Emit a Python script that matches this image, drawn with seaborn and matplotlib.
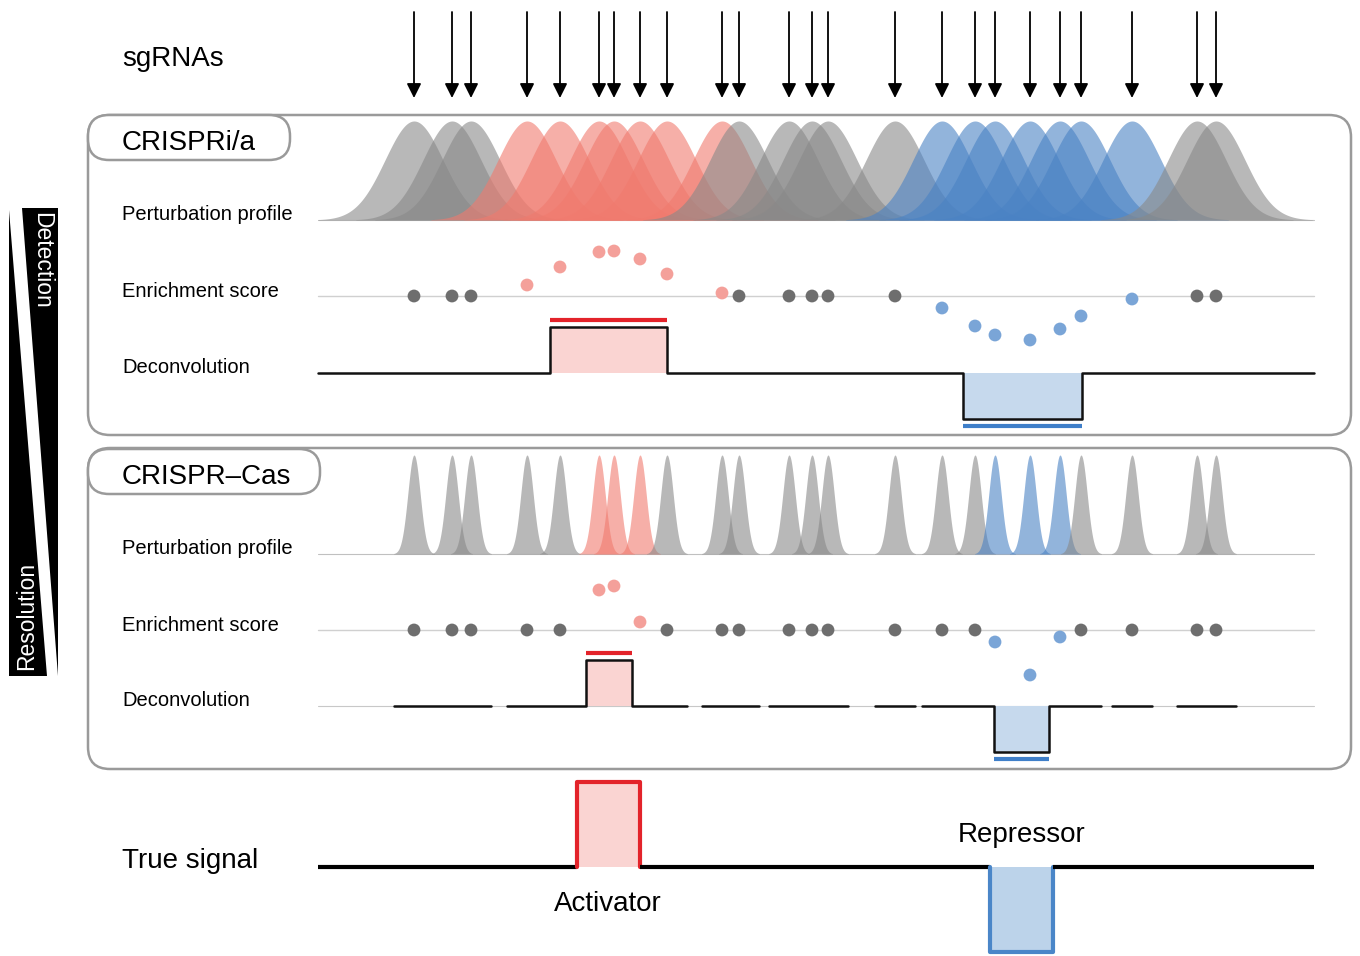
import numpy as np
import pandas as pd
import matplotlib
matplotlib.use("Agg")
import matplotlib.pyplot as plt
from matplotlib.patches import FancyBboxPatch
import seaborn as sns

sns.set_theme(style="white")
plt.rcParams['font.family'] = ['Liberation Sans', 'DejaVu Sans']
plt.rcParams['text.color'] = 'black'

# sgRNA target sites along the locus
guides = [414, 452, 471, 527, 560, 599, 614, 640, 667, 722, 739, 789, 812, 828,
          895, 942, 975, 995, 1030, 1060, 1081, 1132, 1197, 1216]

# guide class per screen: n = no effect, a = hits activator, r = hits repressor
ia_class = ['n', 'n', 'n', 'a', 'a', 'a', 'a', 'a', 'a', 'a', 'n', 'n', 'n', 'n',
            'n', 'r', 'r', 'r', 'r', 'r', 'r', 'r', 'n', 'n']
cas_class = ['n'] * 5 + ['a', 'a', 'a'] + ['n'] * 9 + ['r', 'r', 'r'] + ['n'] * 4

# enrichment scores (up = enriched)
ia_score = [0, 0, 0, 11, 29, 44, 45, 37, 22, 3, 0, 0, 0, 0,
            0, -12, -30, -39, -44, -33, -20, -3, 0, 0]
cas_score = [0, 0, 0, 0, 0, 40, 44, 8, 0, 0, 0, 0, 0, 0, 0, 0, 0,
             -12, -45, -7, 0, 0, 0, 0]

# called / true elements: (start, end, sign)
ia_calls = [(550, 667, 1), (963, 1082, -1)]
cas_calls = [(586, 632, 1), (994, 1049, -1)]
true_calls = [(577, 640, 1), (990, 1053, -1)]

locus = (318, 1314)

# layout
IA = dict(profile=220, score=296, deconv=373)
CAS = dict(profile=554, score=630, deconv=706)
TRUE_BASE = 867
PEAK_H = 99
STEP_H = 46
TRUE_H = 85

prof_col = {'n': '#898989', 'a': '#f07a6e', 'r': '#4a82c4'}
dot_col = {'n': '#6e6e6e', 'a': '#f4a09a', 'r': '#7aa5d7'}
fill_col = {1: '#fad4d2', -1: '#c6d9ed'}
bar_col = {1: '#e3232a', -1: '#3f7fc9'}
true_fill = {1: '#fad4d2', -1: '#bcd3ea'}
true_edge = {1: '#e3232a', -1: '#4a86c8'}
BOX_EDGE = '#9a9a9a'

fig = plt.figure(figsize=(13.6, 9.56), dpi=100)
ax = fig.add_axes([0, 0, 1, 1])


def draw_profiles(base, sigma, classes):
    x = np.linspace(locus[0], locus[1], 3000)
    ax.plot(locus, [base, base], color='#c0c0c0', lw=0.8, zorder=1)
    for g, c in zip(guides, classes):
        y = np.exp(-0.5 * ((x - g) / sigma) ** 2)
        m = y > 0.004
        ax.fill_between(x[m], base, base - PEAK_H * y[m], color=prof_col[c],
                        alpha=0.6, lw=0, zorder=2)


def draw_scores(base, scores, classes):
    ax.plot(locus, [base, base], color='#d0d0d0', lw=1, zorder=1)
    df = pd.DataFrame({'x': guides, 'y': [base - s for s in scores], 'cls': classes})
    sns.scatterplot(data=df, x='x', y='y', hue='cls', palette=dot_col, s=85,
                    edgecolor='none', legend=False, ax=ax, zorder=3)


def step_path(x0, x1, calls, base, amp):
    xs, ys = [x0], [base]
    for a, b, s in calls:
        if a >= x0 and b <= x1:
            xs += [a, a, b, b]
            ys += [base, base - s * amp, base - s * amp, base]
    xs.append(x1)
    ys.append(base)
    return xs, ys


def coverage(half):
    merged = []
    for a, b in sorted((g - half, g + half) for g in guides):
        if merged and a <= merged[-1][1]:
            merged[-1][1] = max(merged[-1][1], b)
        else:
            merged.append([a, b])
    return merged


def draw_deconv(base, calls, segments, thin_base):
    if thin_base:
        ax.plot(locus, [base, base], color='#c8c8c8', lw=0.8, zorder=1)
    for a, b, s in calls:
        ax.fill_between([a, b], base, base - s * STEP_H, color=fill_col[s], lw=0, zorder=2)
        yb = base - s * (STEP_H + 7)
        ax.plot([a, b], [yb, yb], color=bar_col[s], lw=3, solid_capstyle='butt', zorder=3)
    for x0, x1 in segments:
        xs, ys = step_path(x0, x1, calls, base, STEP_H)
        ax.plot(xs, ys, color='#111111', lw=1.8, zorder=3)


def panel(y0, y1, label, pill_w, pill_y0, pill_h):
    ax.add_patch(FancyBboxPatch((88, y0), 1351 - 88, y1 - y0,
                                boxstyle="round,pad=0,rounding_size=22",
                                fc='white', ec=BOX_EDGE, lw=1.8, zorder=0))
    ax.add_patch(FancyBboxPatch((88, pill_y0), pill_w, pill_h,
                                boxstyle="round,pad=0,rounding_size=21",
                                fc='white', ec=BOX_EDGE, lw=1.8, zorder=0.5))
    ax.text(122, pill_y0 + pill_h - 10, label, fontsize=20, va='baseline', ha='left')


# sgRNA arrows
ax.text(122, 66, "sgRNAs", fontsize=20, va='baseline', ha='left')
for g in guides:
    ax.annotate("", xy=(g, 98), xytext=(g, 12),
                arrowprops=dict(arrowstyle="-|>,head_length=0.6,head_width=0.3",
                                color='black', lw=1.3, mutation_scale=14.4,
                                shrinkA=0, shrinkB=0))

# CRISPRi/a panel
panel(115, 435, "CRISPRi/a", 202, 115, 45)
draw_profiles(IA['profile'], 29, ia_class)
draw_scores(IA['score'], ia_score, ia_class)
draw_deconv(IA['deconv'], ia_calls, [locus], False)

# CRISPR-Cas panel
panel(448, 769, "CRISPR\u2013Cas", 232, 449, 45)
draw_profiles(CAS['profile'], 6.2, cas_class)
draw_scores(CAS['score'], cas_score, cas_class)
draw_deconv(CAS['deconv'], cas_calls, coverage(20), True)

for t in (IA, CAS):
    ax.text(122, t['profile'], "Perturbation profile", fontsize=14.5, va='baseline')
    ax.text(122, t['score'] + 1, "Enrichment score", fontsize=14.5, va='baseline')
    ax.text(122, t['deconv'], "Deconvolution", fontsize=14.5, va='baseline')

# true signal
ax.text(122, 868, "True signal", fontsize=20, va='baseline')
prev = locus[0]
for a, b, s in true_calls:
    ax.plot([prev, a], [TRUE_BASE, TRUE_BASE], color='black', lw=3, zorder=3,
            solid_capstyle='butt')
    top = TRUE_BASE - s * TRUE_H
    ax.fill_between([a, b], TRUE_BASE, top, color=true_fill[s], lw=0, zorder=2)
    ax.plot([a, a, b, b], [TRUE_BASE, top, top, TRUE_BASE], color=true_edge[s],
            lw=3, zorder=3, solid_joinstyle='round')
    prev = b
ax.plot([prev, locus[1]], [TRUE_BASE, TRUE_BASE], color='black', lw=3, zorder=3,
        solid_capstyle='butt')
ax.text(608, 911, "Activator", fontsize=20, ha='center', va='baseline')
ax.text(1022, 842, "Repressor", fontsize=20, ha='center', va='baseline')

# detection / resolution wedge
ax.fill([22, 58, 58], [208, 208, 676], color='black', lw=0)
ax.fill([9, 9, 47], [210, 676, 676], color='black', lw=0)
ax.text(42, 212, "Detection", color='white', fontsize=16.5, rotation=-90,
        ha='center', va='top')
ax.text(27, 670, "Resolution", color='white', fontsize=16.5, rotation=90,
        ha='center', va='bottom')

ax.set_xlim(0, 1360)
ax.set_ylim(956, 0)
ax.axis('off')
fig.savefig("out.png", dpi=100)
